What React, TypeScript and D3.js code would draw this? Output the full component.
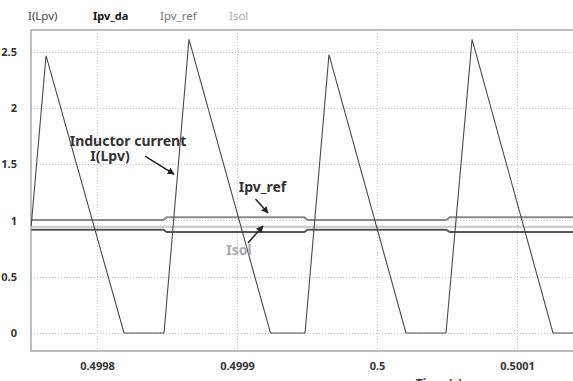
import React, { useEffect, useRef } from "react";
import * as d3 from "d3";

// inductor current I(Lpv) : [time, value]
const iLpv: [number, number][] = [
  [0.499753, 0.95],
  [0.4997636, 2.465],
  [0.4998193, 0],
  [0.4998479, 0],
  [0.4998657, 2.61],
  [0.4999239, 0],
  [0.4999486, 0],
  [0.4999657, 2.474],
  [0.5000207, 0],
  [0.5000493, 0],
  [0.5000679, 2.61],
  [0.5001257, 0],
  [0.50014, 0],
];

// Ipv_ref steps between two levels when the current starts rising
const ipvRef: [number, number][] = [
  [0.499753, 1.005],
  [0.4998474, 1.005],
  [0.4998498, 1.028],
  [0.4999481, 1.028],
  [0.4999505, 1.005],
  [0.5000495, 1.005],
  [0.5000519, 1.028],
  [0.50014, 1.028],
];

const ipvDa: [number, number][] = [
  [0.499753, 0.918],
  [0.4998474, 0.918],
  [0.4998498, 0.898],
  [0.4999481, 0.898],
  [0.4999505, 0.918],
  [0.5000495, 0.918],
  [0.5000519, 0.898],
  [0.50014, 0.898],
];

const isol: [number, number][] = [
  [0.499753, 0.945],
  [0.50014, 0.945],
];

const yTicks = [0, 0.5, 1, 1.5, 2, 2.5];
const xTicks = [0.4998, 0.4999, 0.5, 0.5001];
const xTickLabels = ["0.4998", "0.4999", "0.5", "0.5001"];

const legendNames = ["I(Lpv)", "Ipv_da", "Ipv_ref", "Isol"];
const legendColors = ["#444", "#111", "#777", "#aaa"];

const FONT = "'Noto Sans', 'Liberation Sans', sans-serif";

const App: React.FC = () => {
  const ref = useRef<SVGSVGElement>(null);

  useEffect(() => {
    if (!ref.current) return;
    const width = 573;
    const height = 381;
    const margin = { top: 30, left: 31, bottom: 351 };

    const svg = d3.select(ref.current);
    svg.selectAll("*").remove();

    const x = d3
      .scaleLinear()
      .domain([0.49975286, 0.50014])
      .range([margin.left, width]);
    const y = d3
      .scaleLinear()
      .domain([-0.16, 2.6933])
      .range([margin.bottom, margin.top]);

    // arrow marker
    svg
      .append("defs")
      .append("marker")
      .attr("id", "arr")
      .attr("viewBox", "0 0 10 10")
      .attr("refX", 9)
      .attr("refY", 5)
      .attr("markerWidth", 7)
      .attr("markerHeight", 7)
      .attr("markerUnits", "userSpaceOnUse")
      .attr("orient", "auto")
      .append("path")
      .attr("d", "M0,0 L10,5 L0,10 z")
      .attr("fill", "#222");

    svg.append("rect").attr("width", width).attr("height", height).attr("fill", "#fff");

    // grid
    const grid = svg.append("g").attr("stroke", "#c4c4c4").attr("stroke-dasharray", "1,2").attr("stroke-width", 1);
    grid
      .selectAll("line.h")
      .data(yTicks)
      .join("line")
      .attr("x1", margin.left)
      .attr("x2", width)
      .attr("y1", (d) => Math.round(y(d)) + 0.5)
      .attr("y2", (d) => Math.round(y(d)) + 0.5);
    svg
      .append("g")
      .attr("stroke", "#c4c4c4")
      .attr("stroke-dasharray", "1,2")
      .selectAll("line")
      .data(xTicks)
      .join("line")
      .attr("x1", (d) => Math.round(x(d)) + 0.5)
      .attr("x2", (d) => Math.round(x(d)) + 0.5)
      .attr("y1", margin.top)
      .attr("y2", margin.bottom);

    // frame
    const frame = svg.append("g").attr("stroke", "#a8a8a8").attr("stroke-width", 1.5).attr("fill", "none");
    frame.append("path").attr("d", `M${width},${margin.top}H${margin.left}V${margin.bottom}H${width}`);

    // axes labels
    const yAxis = d3.axisLeft(y).tickValues(yTicks).tickSize(0).tickPadding(14).tickFormat((d) => String(d));
    const ya = svg.append("g").attr("transform", `translate(${margin.left},0)`).call(yAxis);
    ya.select(".domain").remove();
    ya.selectAll("text")
      .attr("font-family", FONT)
      .attr("font-size", 11)
      .attr("font-weight", "bold")
      .attr("fill", "#333");

    const xAxis = d3
      .axisBottom(x)
      .tickValues(xTicks)
      .tickSize(0)
      .tickPadding(11)
      .tickFormat((_, i) => xTickLabels[i]);
    const xa = svg.append("g").attr("transform", `translate(0,${margin.bottom})`).call(xAxis);
    xa.select(".domain").remove();
    xa.selectAll("text")
      .attr("font-family", FONT)
      .attr("font-size", 11)
      .attr("font-weight", "bold")
      .attr("fill", "#333");

    svg
      .append("text")
      .attr("x", x(0.50004429))
      .attr("y", 388)
      .attr("text-anchor", "middle")
      .attr("font-family", FONT)
      .attr("font-size", 12)
      .attr("font-weight", "bold")
      .attr("fill", "#333")
      .text("Time (s)");

    const line = d3
      .line<[number, number]>()
      .x((d) => x(d[0]))
      .y((d) => y(d[1]));

    const plot = svg.append("g").attr("fill", "none");
    plot.append("path").datum(ipvRef).attr("d", line).attr("stroke", "#8a8a8a").attr("stroke-width", 2);
    plot.append("path").datum(isol).attr("d", line).attr("stroke", "#c8c8c8").attr("stroke-width", 2);
    plot.append("path").datum(ipvDa).attr("d", line).attr("stroke", "#555").attr("stroke-width", 2);
    plot.append("path").datum(iLpv).attr("d", line).attr("stroke", "#4a4a4a").attr("stroke-width", 1.1);

    // legend
    const legendX = [28, 93, 160, 229];
    legendNames.forEach((name, i) => {
      svg
        .append("text")
        .attr("x", legendX[i])
        .attr("y", 20)
        .attr("font-family", FONT)
        .attr("font-size", i === 1 ? 11 : 11.5)
        .attr("font-weight", i === 1 ? "bold" : "normal")
        .attr("fill", legendColors[i])
        .text(name);
    });

    // annotations
    const ann = svg.append("g").attr("font-family", FONT).attr("font-size", 14).attr("font-weight", "bold");
    ann.append("text").attr("x", x(0.49982214)).attr("y", y(1.662)).attr("text-anchor", "middle").attr("fill", "#333").text("Inductor current");
    ann.append("text").attr("x", x(0.49980929)).attr("y", y(1.529)).attr("text-anchor", "middle").attr("fill", "#333").text("I(Lpv)");
    ann.append("text").attr("x", x(0.49991821)).attr("y", y(1.253)).attr("text-anchor", "middle").attr("fill", "#333").text("Ipv_ref");
    ann.append("text").attr("x", x(0.49990143)).attr("y", y(0.693)).attr("text-anchor", "middle").attr("fill", "#aaa").text("Isol");

    const arrows: [number, number, number, number][] = [
      [0.49983429, 1.573, 0.499855, 1.413],
      [0.49991321, 1.191, 0.49992214, 1.067],
      [0.49990786, 0.8, 0.49991857, 0.951],
    ];
    svg
      .append("g")
      .selectAll("line")
      .data(arrows)
      .join("line")
      .attr("x1", (d) => x(d[0]))
      .attr("y1", (d) => y(d[1]))
      .attr("x2", (d) => x(d[2]))
      .attr("y2", (d) => y(d[3]))
      .attr("stroke", "#222")
      .attr("stroke-width", 1.5)
      .attr("marker-end", "url(#arr)");
  }, []);

  return (
    <svg
      ref={ref}
      width={573}
      height={381}
      style={{ position: "absolute", left: 0, top: 0, display: "block" }}
    />
  );
};

export default App;
